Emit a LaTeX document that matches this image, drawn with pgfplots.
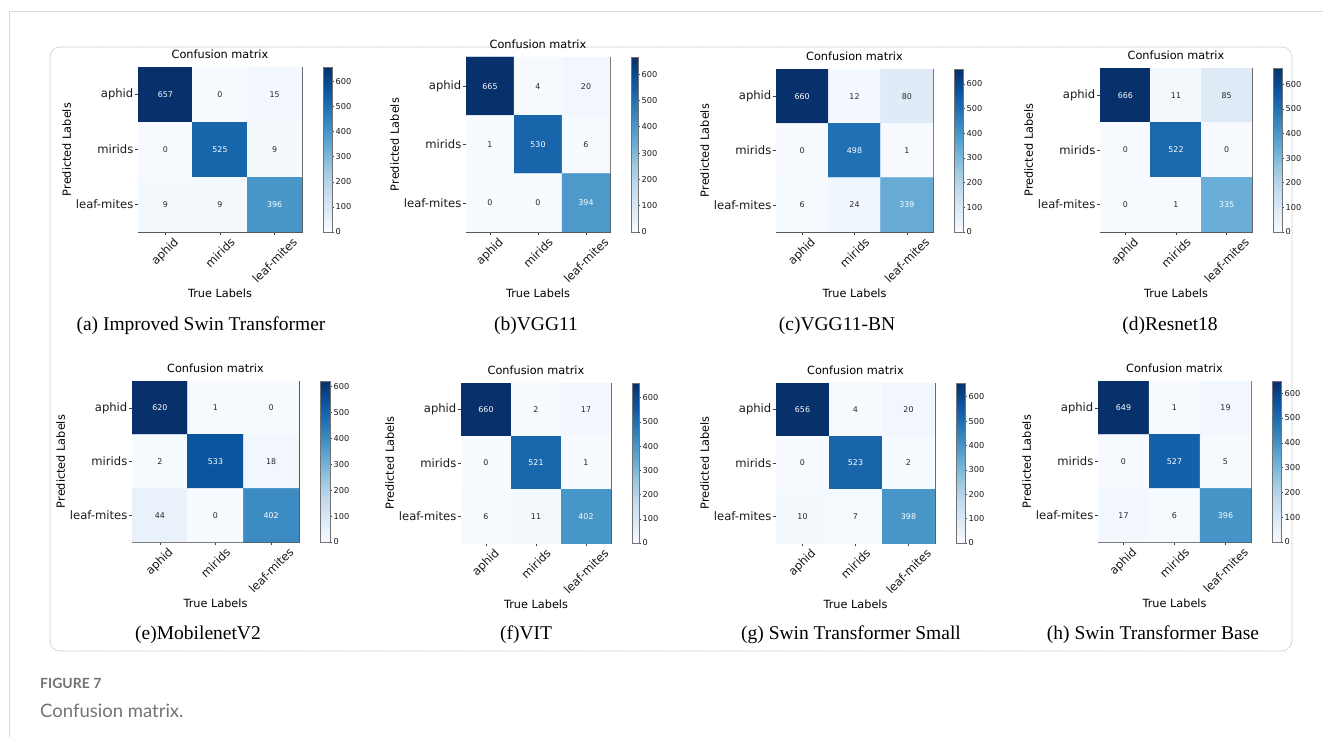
\documentclass[border=0pt]{standalone}
\usepackage{pgfplots}
\pgfplotsset{compat=1.18}
\usepackage{pgfplotstable}
\usepackage{graphicx}
\usepackage{fontspec}
\newfontfamily\djv{DejaVu Sans}
\newfontfamily\tnr{Liberation Serif}
\newfontfamily\lato{Lato}

% rows = predicted label, columns = true label
\pgfplotstableread{
x y c
0 0 657
1 0 0
2 0 15
0 1 0
1 1 525
2 1 9
0 2 9
1 2 9
2 2 396
}\tA
\pgfplotstableread{
x y c
0 0 665
1 0 4
2 0 20
0 1 1
1 1 530
2 1 6
0 2 0
1 2 0
2 2 394
}\tB
\pgfplotstableread{
x y c
0 0 660
1 0 12
2 0 80
0 1 0
1 1 498
2 1 1
0 2 6
1 2 24
2 2 339
}\tC
\pgfplotstableread{
x y c
0 0 666
1 0 11
2 0 85
0 1 0
1 1 522
2 1 0
0 2 0
1 2 1
2 2 335
}\tD
\pgfplotstableread{
x y c
0 0 620
1 0 1
2 0 0
0 1 2
1 1 533
2 1 18
0 2 44
1 2 0
2 2 402
}\tE
\pgfplotstableread{
x y c
0 0 660
1 0 2
2 0 17
0 1 0
1 1 521
2 1 1
0 2 6
1 2 11
2 2 402
}\tF
\pgfplotstableread{
x y c
0 0 656
1 0 4
2 0 20
0 1 0
1 1 523
2 1 2
0 2 10
1 2 7
2 2 398
}\tG
\pgfplotstableread{
x y c
0 0 649
1 0 1
2 0 19
0 1 0
1 1 527
2 1 5
0 2 17
1 2 6
2 2 396
}\tH

\pgfplotsset{
  colormap={blues}{rgb255=(247,251,255) rgb255=(222,235,247) rgb255=(198,219,239)
    rgb255=(158,202,225) rgb255=(107,174,214) rgb255=(66,146,198)
    rgb255=(33,113,181) rgb255=(8,81,156) rgb255=(8,48,107)},
  cm/.style={
    scale only axis, anchor=south west,
    enlargelimits=false,
    xmin=-0.5, xmax=2.5, ymin=-0.5, ymax=2.5, y dir=reverse,
    xtick={0,1,2}, ytick={0,1,2},
    xticklabels={\rotatebox{45}{aphid},\rotatebox{45}{mirids},\rotatebox{45}{leaf-mites}},
    yticklabels={aphid,mirids,leaf-mites},
    tick pos=left, tick align=outside, major tick length=3pt,
    tick style={black!75, line width=0.6pt},
    axis line style={black!65, line width=0.8pt},
    ticklabel style={font=\djv\fontsize{11.6}{13}\selectfont, text=black!90},
    xticklabel style={anchor=north, inner sep=1.5pt},
    yticklabel style={inner sep=1.5pt},
    title={Confusion matrix},
    title style={font=\djv\fontsize{11.3}{13}\selectfont, inner sep=2pt},
    xlabel={True Labels}, ylabel={Predicted Labels},
    label style={font=\djv\fontsize{11.3}{13}\selectfont},
    colormap name=blues, point meta min=0,
    colorbar,
    colorbar style={
      at={(parent axis.north east)}, anchor=north west, xshift=12.5pt,
      scale only axis,
      ytick={0,100,...,600}, ytick pos=right, yticklabel pos=right,
      tick align=outside, major tick length=2pt,
      tick style={black!75, line width=0.5pt},
      axis line style={black!55, line width=0.6pt},
      yticklabel style={font=\djv\fontsize{8.2}{9}\selectfont, inner sep=1.5pt,
        /pgf/number format/assume math mode=true},
    },
  },
}

% #1 table, #2 left, #3 bottom, #4 width, #5 height, #6 colorbar width
\newcommand{\panel}[6]{%
\begin{axis}[cm, at={(#2pt,#3pt)}, width=#4pt, height=#5pt, colorbar style={width=#6pt}]
\addplot[matrix plot*, mesh/cols=3, point meta=explicit] table[meta=c] {#1};
\addplot[only marks, mark=none, point meta=explicit symbolic, nodes near coords,
  nodes near coords style={anchor=center, text=white, font=\djv\fontsize{7.9}{9}\selectfont},
  restrict expr to domain={\thisrow{x}-\thisrow{y}}{-0.1:0.1}] table[meta=c] {#1};
\addplot[only marks, mark=none, point meta=explicit symbolic, nodes near coords,
  nodes near coords style={anchor=center, text=black!85, font=\djv\fontsize{7.9}{9}\selectfont},
  restrict expr to domain={abs(\thisrow{x}-\thisrow{y})}{0.5:2.5}] table[meta=c] {#1};
\end{axis}}

\begin{document}
\begin{tikzpicture}
\begin{scope}[x=1pt,y=1pt]
\path[use as bounding box] (0,0) rectangle (1323,737);
\draw[black!15, line width=1pt] (9,0) -- (9,725) -- (1323,725);
\draw[black!30, dash pattern=on 1.5pt off 1pt, line width=0.6pt, rounded corners=10pt]
  (50,86) rectangle (1292,690);
\end{scope}

\panel{\tA}{138}{505}{164}{165}{9}
\panel{\tB}{466}{505}{144}{175}{7}
\panel{\tC}{776}{505}{157}{163}{9}
\panel{\tD}{1100}{505}{152}{164}{9}
\panel{\tE}{132}{195}{167}{161}{10}
\panel{\tF}{461}{194}{150}{160}{7}
\panel{\tG}{776}{194}{159}{160}{9}
\panel{\tH}{1098}{195}{153}{161}{9}

\begin{scope}[x=1pt,y=1pt, every node/.style={font=\tnr\fontsize{19.5}{22}\selectfont, text=black}]
\node at (201,411) {(a) Improved Swin Transformer};
\node at (536,411) {(b)VGG11};
\node at (837,411) {(c)VGG11-BN};
\node at (1170,411) {(d)Resnet18};
\node at (198,102) {(e)MobilenetV2};
\node at (526,102) {(f)VIT};
\node at (851,102) {(g) Swin Transformer Small};
\node at (1153,102) {(h) Swin Transformer Base};
\end{scope}
\begin{scope}[x=1pt,y=1pt]
\node[anchor=west, inner sep=0pt, text=black!55, font=\lato\bfseries\fontsize{14}{16}\selectfont] at (40,54) {FIGURE 7};
\node[anchor=west, inner sep=0pt, text=black!55, font=\lato\fontsize{18.5}{20}\selectfont] at (40,26) {Confusion matrix.};
\end{scope}
\end{tikzpicture}
\end{document}
